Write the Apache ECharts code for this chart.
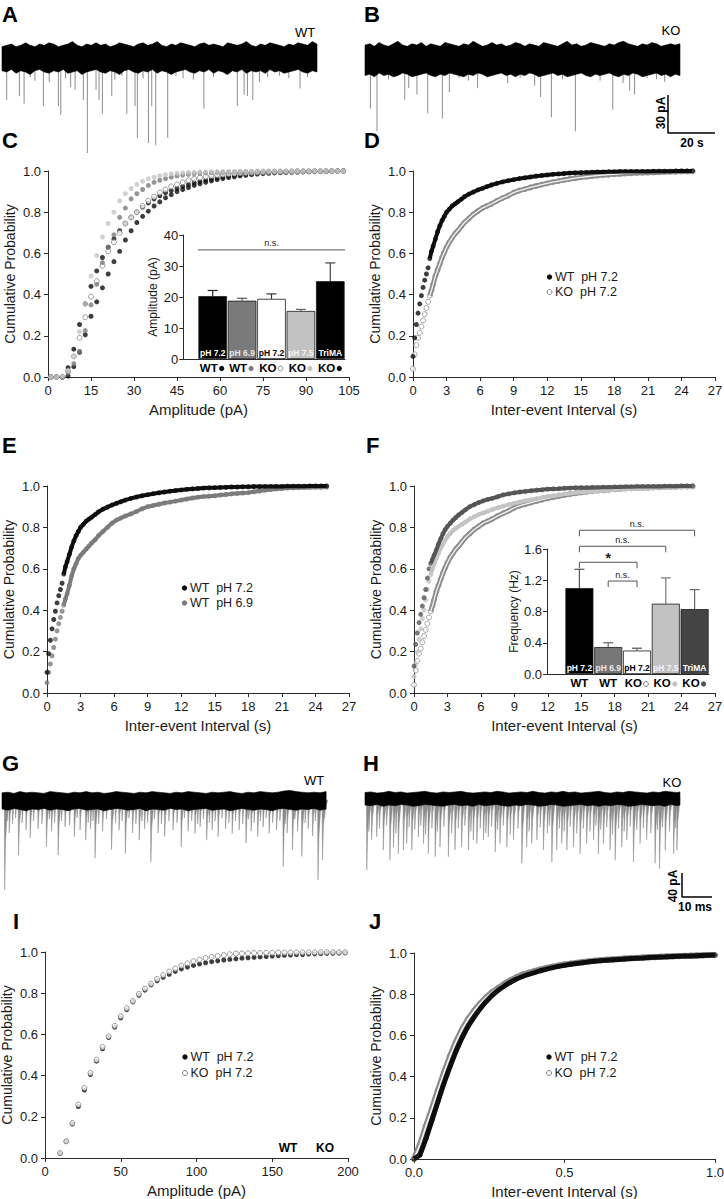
<!DOCTYPE html>
<html><head><meta charset="utf-8">
<script src="https://cdn.jsdelivr.net/npm/echarts/dist/echarts.min.js"></script>
<style>html,body{margin:0;padding:0;background:#fff}#c{width:724px;height:1199px}</style>
</head><body><div id="c"></div>
<script>
// ================= DATA =================
// Panels A/B: raw traces (time in s, current in pA relative to baseline)
const envAB = [0,2,4,6,8,10,12,14,16,18,20,22,24,26,28,30,32,34,36,38,40,42,44,46,48,50,52,54,56,58,60,62,64,66,68,70,72,74,76,78,80,82,84,86,88,90,92,94,96,98,100,102,104,106,108,110,112,114,116,118,120,122,124,126,128,130,132,134];
const traceAHi = [9,10,11,9,10,12,10,9,11,10,12,11,9,10,11,13,10,9,11,10,12,10,11,9,10,12,11,10,9,11,12,10,11,13,10,9,11,10,12,11,10,9,11,12,10,11,10,9,12,11,10,11,13,10,9,11,10,12,11,10,9,11,10,12,11,10,13,11];
const traceALo = [-10,-11,-9,-12,-10,-11,-13,-10,-9,-11,-12,-10,-11,-9,-12,-11,-10,-13,-11,-10,-9,-11,-12,-10,-11,-13,-10,-9,-11,-12,-10,-11,-9,-12,-10,-11,-13,-11,-10,-9,-11,-12,-10,-11,-9,-12,-10,-11,-13,-10,-11,-9,-12,-10,-11,-10,-12,-9,-11,-10,-12,-11,-10,-9,-11,-12,-10,-11];
const traceBHi = [11,12,10,13,11,10,12,14,11,10,12,11,13,10,12,11,10,13,12,11,10,12,11,14,12,10,11,13,11,12,10,11,13,12,10,12,11,10,13,12,11,10,12,14,11,12,10,11,13,12,11,10,12,11,13,14,12,11,10,12,11,13,12,10,11,12,11,12];
const traceBLo = [-13,-12,-14,-11,-13,-12,-14,-13,-11,-12,-14,-13,-12,-11,-13,-14,-12,-13,-11,-12,-13,-14,-12,-13,-11,-12,-14,-13,-12,-11,-13,-12,-14,-12,-13,-11,-12,-14,-13,-12,-11,-13,-12,-14,-13,-12,-11,-13,-14,-12,-13,-12,-11,-13,-14,-12,-13,-11,-12,-14,-13,-12,-11,-13,-12,-14,-12,-13];
const traceASpikes = [[2.0,33],[7.4,30],[9.4,36],[12,15],[14,18],[17.6,38],[20.1,19],[24.0,38],[25.0,45],[27,16],[29.2,23],[31.1,25],[34.6,33],[36.3,75],[40.0,25],[41.3,33],[42.7,44],[46.7,30],[48,17],[51,14],[53.1,44],[56.6,38],[57.6,63],[60,16],[62.3,67],[63.7,38],[65.4,69],[70.5,63],[74,14],[77,16],[81.4,17],[85.9,40],[90,15],[95,13],[100.1,38],[103.0,29],[104.4,30],[106.7,33],[109.5,19],[113,15],[118,14],[122,16],[126.8,24],[130,15]];
const traceBSpikes = [[2.3,39],[5.1,57],[10,16],[13,14],[16.9,32],[18.6,23],[22.1,28],[26.7,43],[32.9,47],[35.9,26],[40,15],[44,17],[47.9,23],[52,14],[60.7,19],[66,15],[72.2,21],[74.7,30],[79.3,46],[84,16],[89.5,57],[96,14],[100,17],[105.4,40],[109.8,19],[112.6,25],[114.7,28],[120,15],[124,16],[127.5,18]];
const scaleAB = {pA:30, s:20};

// Panels G/H: traces (time in ms, current in pA)
const envG = [0,2,4,6,8,10,12,14,16,18,20,22,24,26,28,30,32,34,36,38,40,42,44,46,48,50,52,54,56,58,60,62,64,66,68,70,72,74,76,78,80,82,84,86,88,90,92,94,96,98,100,102,104,106,108];
const traceGHi = [12,13,11,14,12,13,12,11,14,13,12,11,13,12,14,12,13,11,12,14,13,12,11,13,12,14,13,12,11,13,12,14,13,12,11,13,12,13,14,12,11,13,12,14,13,12,13,15,16,14,13,12,13,12,14];
const traceGLo = [-15,-17,-14,-16,-18,-15,-16,-14,-17,-15,-16,-18,-15,-14,-17,-16,-15,-18,-16,-14,-15,-17,-16,-14,-18,-15,-16,-17,-14,-16,-15,-18,-16,-15,-14,-17,-16,-15,-18,-16,-14,-16,-17,-15,-16,-18,-15,-14,-16,-17,-15,-16,-14,-17,-15];
const envH = [0,2,4,6,8,10,12,14,16,18,20,22,24,26,28,30,32,34,36,38,40,42,44,46,48,50,52,54,56,58,60,62,64,66,68,70,72,74,76,78,80,82,84,86,88,90,92,94,96,98,100,102,104,105];
const traceHHi = [10,11,9,10,12,10,11,9,10,11,12,10,9,11,10,11,12,10,9,10,11,10,12,11,9,10,11,10,12,10,9,11,10,12,10,11,9,10,11,12,10,9,11,10,12,11,10,9,11,10,12,11,10,11];
const traceHLo = [-11,-12,-10,-13,-11,-12,-10,-11,-13,-12,-10,-11,-12,-13,-11,-10,-12,-11,-13,-10,-12,-11,-10,-12,-13,-11,-12,-10,-11,-13,-12,-10,-11,-13,-12,-11,-10,-12,-11,-13,-11,-12,-10,-11,-13,-12,-10,-11,-12,-11,-13,-10,-12,-11];
const traceGSpikes = [[0.9,150],[1.7,35],[2.4,55],[3.5,40],[4.5,30],[5.5,92],[6.7,38],[8,50],[9.4,63],[10.5,35],[12,48],[13.3,40],[14.8,78],[15.8,32],[16.5,52],[17.5,38],[18.7,92],[19.8,35],[21,45],[22.5,42],[24.1,61],[25,30],[26,50],[27.9,67],[28.7,38],[29.5,48],[30.3,35],[31.0,97],[32.2,40],[33.5,52],[34.8,32],[36.5,83],[37.8,38],[39,50],[40,35],[41.1,89],[42.3,30],[43.5,55],[44.6,40],[45.7,67],[46.6,35],[47.5,48],[48.5,38],[49.6,103],[50.8,32],[52,55],[53.1,40],[54.2,61],[55.6,35],[57,50],[58.3,38],[59.7,78],[60.8,30],[62,52],[63.2,35],[64.3,56],[65.2,40],[66,45],[67.1,32],[68.2,67],[69.1,38],[70,50],[71,35],[72.0,61],[73.3,30],[74.5,48],[75.6,38],[76.7,56],[77.8,35],[79,50],[80.2,40],[81.3,72],[82.2,32],[83,52],[84,38],[85.2,61],[86.1,35],[87,45],[88,30],[89.0,56],[90.2,38],[91.5,50],[92.6,35],[93.7,111],[94.3,40],[95,55],[96.8,83],[97.6,32],[98.5,52],[99.9,94],[101,38],[102,48],[103.5,60],[104.4,35],[105.3,133],[106.8,100],[107.5,30]];
const traceHSpikes = [[0.6,119],[1.3,55],[2.2,69],[3.9,64],[4.8,50],[6.1,86],[7.2,45],[8.3,103],[9.5,81],[10.3,58],[11.1,92],[12.8,86],[13.9,75],[14.7,48],[15.6,86],[16.6,52],[17.8,64],[18.6,45],[19.5,75],[20.2,60],[21.1,92],[22.3,50],[23.4,97],[24.1,55],[25.0,81],[26.3,47],[27.8,97],[28.9,58],[30.0,86],[31.1,50],[32.2,81],[33.3,45],[34.5,86],[35.3,55],[36.1,69],[37.3,75],[38.4,50],[39.5,69],[40.3,58],[41.1,64],[42.2,47],[43.4,89],[44.2,52],[45.0,75],[46.1,45],[47.3,81],[48.4,60],[49.5,69],[51,50],[52.3,108],[53.9,81],[54.7,55],[55.6,75],[57.3,69],[58.4,48],[59.5,86],[60.8,58],[61.5,45],[62.3,106],[63.9,86],[64.8,50],[65.6,75],[66.4,55],[67.3,86],[68.4,47],[69.5,81],[70.6,58],[71.7,92],[72.8,50],[73.9,75],[75,55],[76.2,69],[77,45],[77.8,92],[78.6,52],[79.5,75],[80.6,48],[81.7,86],[82.5,60],[83.4,103],[84.5,50],[85.6,81],[86.4,55],[87.3,69],[88.4,47],[89.5,106],[90.6,52],[91.7,75],[92.8,50],[93.9,69],[95.3,58],[96.7,108],[97.5,52],[98.2,117],[99.2,48],[100.1,86],[101.5,55],[102.9,92],[103.4,50],[104.0,86]];
const scaleGH = {pA:40, ms:10};

// Panel C: amplitude cumulative distributions (bins in pA)
const ampBins = [1,3,5,7,9,11,13,15,17,19,21,23,25,27,29,31,33,35,37,39,41,43,45,47,49,51,53,55,57,59,61,63,65,67,69,71,73,75,77,79,81,83,85,87,89,91,93,95,97,99,101,103];
const cKOtri = [0,0,0,0.005,0.05,0.12,0.205,0.295,0.365,0.433,0.5,0.56,0.61,0.665,0.71,0.75,0.78,0.805,0.83,0.85,0.87,0.885,0.9,0.91,0.92,0.93,0.938,0.945,0.952,0.958,0.963,0.968,0.972,0.976,0.979,0.982,0.985,0.987,0.989,0.991,0.992,0.993,0.994,0.995,0.996,0.997,0.997,0.998,0.998,0.999,0.999,1];
const cWT72 = [0,0,0,0.045,0.135,0.255,0.355,0.44,0.515,0.58,0.63,0.67,0.71,0.745,0.775,0.8,0.825,0.845,0.865,0.88,0.895,0.905,0.915,0.925,0.935,0.943,0.95,0.956,0.962,0.967,0.972,0.976,0.979,0.982,0.985,0.987,0.989,0.991,0.992,0.993,0.994,0.995,0.996,0.996,0.997,0.997,0.998,0.998,0.999,0.999,1,1];
const cKO72 = [0,0,0,0.03,0.1,0.19,0.29,0.39,0.465,0.54,0.61,0.655,0.7,0.745,0.775,0.8,0.83,0.855,0.875,0.895,0.91,0.925,0.935,0.945,0.955,0.962,0.968,0.973,0.977,0.98,0.983,0.986,0.988,0.99,0.991,0.992,0.993,0.994,0.995,0.996,0.996,0.997,0.997,0.998,0.998,0.998,0.999,0.999,0.999,1,1,1];
const cWT69 = [0,0,0,0.02,0.065,0.125,0.225,0.35,0.45,0.555,0.63,0.69,0.775,0.82,0.865,0.89,0.91,0.93,0.945,0.955,0.963,0.97,0.976,0.98,0.984,0.987,0.989,0.991,0.992,0.993,0.994,0.995,0.996,0.996,0.997,0.997,0.998,0.998,0.998,0.999,0.999,0.999,0.999,1,1,1,1,1,1,1,1,1];
const cKO75 = [0,0,0.005,0.03,0.1,0.22,0.355,0.49,0.59,0.68,0.745,0.8,0.855,0.89,0.915,0.935,0.95,0.962,0.97,0.977,0.982,0.986,0.989,0.991,0.993,0.994,0.995,0.996,0.997,0.997,0.998,0.998,0.998,0.999,0.999,0.999,0.999,1,1,1,1,1,1,1,1,1,1,1,1,1,1,1];

// Insets: bar charts (mean, top of error bar)
const insetGroups = ['WT','WT','KO','KO','KO'];
const insetTags = ['pH 7.2','pH 6.9','pH 7.2','pH 7.5','TriMA'];
const ampMean = [20.3,18.8,19.4,15.5,25.1];
const ampErrTop = [22.1,19.6,21.0,16.0,31.0];
const ampSig = {x1:-0.5, x2:4.5, y:35.2, text:'n.s.'};
const freqMean = [1.10,0.345,0.30,0.90,0.83];
const freqErrTop = [1.34,0.40,0.33,1.23,1.08];
const brX1 = [0,0,0,1];
const brX2 = [4,3,2,2];
const brY = [1.84,1.635,1.43,1.19];
const brText = ['n.s.','n.s.','*','n.s.'];

// Panels D/E/F: inter-event interval cumulative distributions (s)
const ieiX = [0,0.15,0.3,0.45,0.6,0.75,0.9,1.05,1.2,1.35,1.5,1.65,1.8,2.0,2.2,2.4,2.6,2.8,3.0,3.25,3.5,3.75,4.0,4.3,4.6,5.0,5.4,5.8,6.2,6.6,7.0,7.5,8.0,8.5,9.0,9.5,10,10.5,11,11.5,12,12.5,13,13.5,14,14.5,15,15.5,16,16.5,17,17.5,18,18.5,19,19.5,20,20.5,21,21.5,22,22.5,23,23.5,24,24.5,25];
const iWT72 = [0.10,0.19,0.255,0.31,0.355,0.395,0.435,0.47,0.50,0.53,0.575,0.61,0.635,0.67,0.705,0.735,0.76,0.78,0.80,0.815,0.83,0.84,0.85,0.862,0.875,0.888,0.898,0.908,0.916,0.924,0.932,0.94,0.947,0.953,0.958,0.963,0.967,0.971,0.975,0.978,0.981,0.984,0.986,0.988,0.99,0.991,0.992,0.993,0.994,0.995,0.995,0.996,0.996,0.997,0.997,0.997,0.998,0.998,0.998,0.999,0.999,0.999,0.999,1,1,1,1];
const iKO72 = [0.04,0.11,0.155,0.19,0.215,0.245,0.275,0.305,0.335,0.365,0.395,0.42,0.45,0.49,0.52,0.55,0.58,0.605,0.63,0.655,0.675,0.695,0.71,0.73,0.75,0.77,0.79,0.805,0.82,0.83,0.84,0.855,0.868,0.88,0.895,0.905,0.912,0.92,0.927,0.934,0.94,0.946,0.951,0.956,0.961,0.965,0.969,0.972,0.975,0.978,0.98,0.982,0.984,0.986,0.988,0.989,0.99,0.991,0.992,0.993,0.994,0.995,0.996,0.996,0.997,0.997,0.998];
const iWT69 = [0.05,0.1,0.14,0.18,0.22,0.26,0.3,0.335,0.365,0.395,0.425,0.455,0.48,0.52,0.565,0.6,0.625,0.65,0.665,0.68,0.695,0.71,0.725,0.74,0.76,0.78,0.8,0.82,0.835,0.845,0.855,0.865,0.877,0.89,0.9,0.906,0.912,0.918,0.922,0.927,0.932,0.937,0.942,0.946,0.949,0.951,0.953,0.956,0.959,0.962,0.964,0.966,0.968,0.972,0.976,0.98,0.983,0.986,0.988,0.99,0.991,0.992,0.993,0.993,0.994,0.994,0.995];
const iKOtri = [0.13,0.235,0.29,0.34,0.38,0.42,0.46,0.5,0.555,0.6,0.625,0.645,0.665,0.69,0.72,0.745,0.77,0.79,0.805,0.82,0.835,0.848,0.86,0.872,0.885,0.9,0.91,0.92,0.928,0.935,0.94,0.948,0.957,0.962,0.967,0.971,0.974,0.977,0.98,0.982,0.985,0.986,0.987,0.989,0.99,0.991,0.992,0.992,0.993,0.993,0.994,0.994,0.995,0.995,0.996,0.996,0.997,0.997,0.998,0.998,0.998,0.999,0.999,0.999,1,1,1];
const iKO75 = [0.08,0.14,0.2,0.26,0.31,0.36,0.4,0.45,0.5,0.54,0.57,0.6,0.625,0.65,0.675,0.7,0.72,0.74,0.755,0.77,0.785,0.795,0.805,0.815,0.825,0.84,0.852,0.862,0.87,0.878,0.886,0.895,0.903,0.91,0.917,0.923,0.929,0.934,0.939,0.944,0.949,0.953,0.957,0.961,0.964,0.967,0.97,0.972,0.974,0.976,0.978,0.98,0.982,0.983,0.985,0.986,0.987,0.988,0.989,0.99,0.991,0.992,0.993,0.994,0.995,0.995,0.996];

// Panel I: amplitude (pA)
const iAmpX = [10,14,18,22,26,30,34,38,42,46,50,54,58,62,66,70,74,78,82,86,90,94,98,102,106,110,114,118,122,126,130,134,138,142,146,150,154,158,162,166,170,174,178,182,186,190,194,198];
const iAmpWT = [0.022,0.08,0.165,0.25,0.33,0.405,0.47,0.53,0.585,0.635,0.68,0.72,0.758,0.79,0.815,0.84,0.86,0.877,0.892,0.906,0.918,0.927,0.935,0.942,0.948,0.953,0.957,0.961,0.964,0.967,0.97,0.972,0.974,0.976,0.978,0.98,0.982,0.984,0.985,0.987,0.988,0.99,0.991,0.992,0.993,0.994,0.995,0.996];
const iAmpKO = [0.024,0.081,0.17,0.259,0.34,0.413,0.477,0.539,0.59,0.642,0.688,0.727,0.762,0.796,0.822,0.846,0.869,0.888,0.905,0.919,0.934,0.945,0.955,0.963,0.971,0.976,0.981,0.985,0.989,0.992,0.993,0.994,0.995,0.995,0.996,0.996,0.997,0.997,0.997,0.998,0.998,0.998,0.998,0.999,0.999,0.999,0.999,0.999];

// Panel J: inter-event interval (s)
const jX = [0,0.02,0.04,0.06,0.08,0.1,0.12,0.14,0.16,0.18,0.2,0.22,0.24,0.26,0.28,0.3,0.32,0.34,0.36,0.38,0.4,0.42,0.44,0.46,0.48,0.5,0.52,0.54,0.56,0.58,0.6,0.62,0.64,0.66,0.68,0.7,0.72,0.74,0.76,0.78,0.8,0.82,0.84,0.86,0.88,0.9,0.92,0.94,0.96,0.98,1.0];
const jWT = [0,0.02,0.1,0.19,0.28,0.37,0.45,0.525,0.59,0.645,0.69,0.73,0.765,0.795,0.82,0.84,0.858,0.874,0.886,0.896,0.905,0.914,0.922,0.929,0.935,0.94,0.945,0.949,0.953,0.957,0.96,0.963,0.965,0.967,0.969,0.971,0.973,0.975,0.976,0.978,0.979,0.98,0.982,0.983,0.984,0.985,0.986,0.987,0.988,0.989,0.99];
const jKO = [0,0.07,0.16,0.245,0.335,0.42,0.5,0.57,0.63,0.68,0.72,0.755,0.785,0.81,0.83,0.85,0.867,0.882,0.895,0.904,0.912,0.92,0.927,0.933,0.939,0.944,0.948,0.952,0.956,0.959,0.962,0.965,0.967,0.969,0.971,0.973,0.975,0.976,0.978,0.979,0.98,0.982,0.983,0.984,0.985,0.986,0.987,0.988,0.989,0.99,0.99];

// ================= STYLE =================
const FF = '"Liberation Sans", Arial, Helvetica, sans-serif';
const AXC = '#2b2b2b';
const BLACK = '#0d0d0d', DGREY = '#7b7b7b', LGREY = '#c4c4c4', OPEN = '#808080', TRI = '#555555';

const chart = echarts.init(document.getElementById('c'), null, {renderer:'svg', width:724, height:1199});

const gridDefs = [
  {left:2, top:32.7, width:315, height:126.7},    //0 A
  {left:365, top:33.7, width:350, height:126.7},  //1 B
  {left:48, top:171, width:301, height:206},      //2 C
  {left:183.3, top:235, width:161.7, height:124}, //3 C inset
  {left:413, top:171, width:302, height:206},     //4 D
  {left:47, top:486, width:302, height:207},      //5 E
  {left:414, top:486, width:301, height:207},     //6 F
  {left:547, top:549, width:162, height:125},     //7 F inset
  {left:2, top:788, width:325, height:108},       //8 G
  {left:365, top:786.5, width:350, height:114},   //9 H
  {left:45, top:952, width:303, height:206},      //10 I
  {left:414, top:953, width:301, height:206}      //11 J
];
const grid = gridDefs.map(g => Object.assign({containLabel:false, outerBoundsMode:'none'}, g));

const axLine = {show:true, onZero:false, lineStyle:{color:AXC, width:1}};
const axTick = {show:true, length:4, inside:false, lineStyle:{color:AXC, width:1}};
const fix1 = v => v.toFixed(1);

function hiddenAxis(g, min, max) { return {gridIndex:g, type:'value', min, max, show:false}; }
function cdfX(g, max, interval, name, fmt) {
  return {gridIndex:g, type:'value', min:0, max, interval, name, nameLocation:'middle', nameGap:25,
    nameTextStyle:{fontFamily:FF, fontSize:15, color:'#1a1a1a'},
    axisLine:axLine, axisTick:axTick, splitLine:{show:false},
    axisLabel:{fontFamily:FF, fontSize:13, color:'#1a1a1a', margin:7, formatter:fmt}};
}
function cdfY(g) {
  return {gridIndex:g, type:'value', min:0, max:1, interval:0.2, name:'Cumulative Probability', nameLocation:'middle', nameGap:31,
    nameTextStyle:{fontFamily:FF, fontSize:14, color:'#1a1a1a'},
    axisLine:axLine, axisTick:axTick, splitLine:{show:false},
    axisLabel:{fontFamily:FF, fontSize:13, color:'#1a1a1a', margin:7, formatter:fix1}};
}
function insetX(g, min, max) {
  return {gridIndex:g, type:'value', min, max, axisLine:axLine, axisTick:{show:false}, axisLabel:{show:false}, splitLine:{show:false}};
}
function insetY(g, max, interval, name, fmt) {
  return {gridIndex:g, type:'value', min:0, max, interval, name, nameLocation:'middle', nameGap:24,
    nameTextStyle:{fontFamily:FF, fontSize:12, color:'#1a1a1a'},
    axisLine:axLine, axisTick:axTick, splitLine:{show:false},
    axisLabel:{fontFamily:FF, fontSize:13, color:'#1a1a1a', margin:5, formatter:fmt}};
}

const xAxis = [
  hiddenAxis(0, 0, 134), hiddenAxis(1, 0, 148.9),
  cdfX(2, 105, 15, 'Amplitude (pA)'),
  insetX(3, -1, 4.5),
  cdfX(4, 27, 3, 'Inter-event Interval (s)'),
  cdfX(5, 27, 3, 'Inter-event Interval (s)'),
  cdfX(6, 27, 3, 'Inter-event Interval (s)'),
  insetX(7, -1.125, 4.5),
  hiddenAxis(8, 0, 108.3), hiddenAxis(9, 0, 116.7),
  cdfX(10, 200, 50, 'Amplitude (pA)'),
  cdfX(11, 1, 0.5, 'Inter-event Interval (s)', fix1)
];
const yAxis = [
  hiddenAxis(0, -80, 20), hiddenAxis(1, -80, 20),
  cdfY(2),
  insetY(3, 40, 10, 'Amplitude (pA)'),
  cdfY(4), cdfY(5), cdfY(6),
  insetY(7, 1.6, 0.4, 'Frequency (Hz)', fix1),
  hiddenAxis(8, -160, 20), hiddenAxis(9, -170, 20),
  cdfY(10), cdfY(11)
];

const series = [];
const base = g => ({xAxisIndex:g, yAxisIndex:g, animation:false, silent:true, clip:false});

// ---- traces
function bandSeries(g, ts, hi, lo) {
  return Object.assign(base(g), {type:'custom', data:[[0,0]], renderItem:(p, api) => {
    const pts = [];
    ts.forEach((t,i) => pts.push(api.coord([t, hi[i]])));
    for (let i = ts.length - 1; i >= 0; i--) pts.push(api.coord([ts[i], lo[i]]));
    return {type:'polygon', shape:{points:pts}, style:{fill:'#000', stroke:'#000', lineWidth:0.6}};
  }});
}
function spikeSeries(g, spikes, color) {
  return Object.assign(base(g), {type:'custom', data:spikes, renderItem:(p, api) => {
    const a = api.coord([api.value(0), 0]);
    const b = api.coord([api.value(0), -api.value(1)]);
    return {type:'line', shape:{x1:a[0], y1:a[1], x2:b[0], y2:b[1]}, style:{stroke:color, lineWidth:1}};
  }});
}
// fast events: quick rise, slower return (pixel widths are drawing style)
function eventSeries(g, spikes, color) {
  return Object.assign(base(g), {type:'custom', data:spikes, renderItem:(p, api) => {
    const a = api.coord([api.value(0), 0]);
    const b = api.coord([api.value(0), -api.value(1)]);
    const h = b[1] - a[1];
    return {type:'polygon', shape:{points:[[a[0] - 0.4, a[1]], [b[0], b[1]], [b[0] + 0.9, a[1] + h * 0.45], [a[0] + 3.2, a[1]]]},
      style:{fill:color, stroke:color, lineWidth:0.5}};
  }});
}
function scaleBar(g, x0, y0, dx, dy) {
  return Object.assign(base(g), {type:'line', data:[[x0, y0], [x0, y0 - dy], [x0 + dx, y0 - dy]],
    showSymbol:false, lineStyle:{color:'#000', width:1.5}});
}
series.push(spikeSeries(0, traceASpikes, '#8c8c8c'), bandSeries(0, envAB, traceAHi, traceALo));
series.push(spikeSeries(1, traceBSpikes, '#8c8c8c'), bandSeries(1, envAB, traceBHi, traceBLo));
series.push(scaleBar(1, 128.9, -28.4, scaleAB.s, scaleAB.pA));
series.push(eventSeries(8, traceGSpikes, '#8a8a8a'), bandSeries(8, envG, traceGHi, traceGLo));
series.push(eventSeries(9, traceHSpikes, '#8a8a8a'), bandSeries(9, envH, traceHHi, traceHLo));
series.push(scaleBar(9, 105.7, -124.2, scaleGH.ms, scaleGH.pA));

// ---- cumulative distributions
function cdf(g, xs, ys, kind, color, size, tailFrom, lineW, innerW) {
  const pts = xs.map((x,i) => [x, ys[i]]);
  const out = [];
  if (tailFrom != null) {
    const tail = pts.slice(tailFrom);
    out.push(Object.assign(base(g), {type:'line', data:tail, showSymbol:false, lineStyle:{color, width:lineW}}));
    if (kind === 'open') {
      out.push(Object.assign(base(g), {type:'line', data:tail, showSymbol:false, lineStyle:{color:'#f4f4f4', width:innerW}}));
    }
  }
  if (kind === 'filled') {
    out.push(Object.assign(base(g), {type:'scatter', data:pts, symbol:'circle', symbolSize:size, itemStyle:{color}}));
  } else {
    out.push(Object.assign(base(g), {type:'scatter', data:pts, symbol:'circle', symbolSize:size, itemStyle:{color:'#fff', borderColor:color, borderWidth:1}}));
  }
  return out;
}
// C
series.push(...cdf(2, ampBins, cKOtri, 'filled', BLACK, 5));
series.push(...cdf(2, ampBins, cWT72, 'filled', BLACK, 5));
series.push(...cdf(2, ampBins, cKO72, 'open', OPEN, 5));
series.push(...cdf(2, ampBins, cWT69, 'filled', DGREY, 5));
series.push(...cdf(2, ampBins, cKO75, 'filled', LGREY, 5));
// D
series.push(...cdf(4, ieiX, iKO72, 'open', '#8c8c8c', 5, 10, 5, 1.3));
series.push(...cdf(4, ieiX, iWT72, 'filled', BLACK, 5, 10, 4));
// E
series.push(...cdf(5, ieiX, iWT69, 'filled', DGREY, 5, 10, 4));
series.push(...cdf(5, ieiX, iWT72, 'filled', BLACK, 5, 10, 4));
// F
series.push(...cdf(6, ieiX, iKO72, 'open', '#8c8c8c', 5, 10, 5, 1.3));
series.push(...cdf(6, ieiX, iKO75, 'filled', LGREY, 5, 10, 4));
series.push(...cdf(6, ieiX, iKOtri, 'filled', TRI, 5, 10, 4));
// I
series.push(...cdf(10, iAmpX, iAmpWT, 'filled', BLACK, 5));
series.push(...cdf(10, iAmpX, iAmpKO, 'open', OPEN, 5));
// J (KO underneath, WT on top)
series.push(...cdf(11, jX, jKO, 'open', '#8a8a8a', 5.5, 0, 6, 1.6));
series.push(...cdf(11, jX, jWT, 'filled', BLACK, 5, 0, 5));

// ---- inset bar charts
function insetBars(g, means, fills, tagColors, width) {
  return Object.assign(base(g), {type:'bar', barWidth:width,
    data: means.map((v,i) => ({value:[i, v], itemStyle:{color:fills[i], borderColor:'#1a1a1a', borderWidth:0.8},
      label:{color:tagColors[i]}})),
    label:{show:true, position:'insideBottom', distance:1.5, fontFamily:FF, fontSize:8.5, fontWeight:'bold',
      formatter:p => insetTags[p.dataIndex]}});
}
function errBars(g, means, tops, colors) {
  return Object.assign(base(g), {type:'custom', data: means.map((m,i) => [i, tops[i], m]), renderItem:(p, api) => {
    const a = api.coord([api.value(0), api.value(2)]);
    const b = api.coord([api.value(0), api.value(1)]);
    const c = colors[p.dataIndex];
    return {type:'group', children:[
      {type:'line', shape:{x1:a[0], y1:a[1], x2:b[0], y2:b[1]}, style:{stroke:c, lineWidth:1.2}},
      {type:'line', shape:{x1:b[0]-5, y1:b[1], x2:b[0]+5, y2:b[1]}, style:{stroke:c, lineWidth:1.2}}
    ]};
  }});
}
function groupLabels(g, marks, dy) {
  return Object.assign(base(g), {type:'custom', data: insetGroups.map((s,i) => [i, 0]), renderItem:(p, api) => {
    const i = p.dataIndex;
    const pt = api.coord([api.value(0), 0]);
    const y = pt[1] + dy;
    const m = marks[i];
    const kids = [];
    if (m) {
      kids.push({type:'text', x:pt[0] + 5, y, style:{text:insetGroups[i], fill:'#000', font:'bold 11.5px ' + FF,
        align:'right', verticalAlign:'middle', textAlign:'right', textVerticalAlign:'middle'}});
      if (m === 'open') kids.push({type:'circle', shape:{cx:pt[0] + 9, cy:y + 1, r:2.4}, style:{fill:'#fff', stroke:OPEN, lineWidth:1}});
      else kids.push({type:'circle', shape:{cx:pt[0] + 9, cy:y + 1, r:2.6}, style:{fill:m}});
    } else {
      kids.push({type:'text', x:pt[0], y, style:{text:insetGroups[i], fill:'#000', font:'bold 11.5px ' + FF,
        align:'center', verticalAlign:'middle', textAlign:'center', textVerticalAlign:'middle'}});
    }
    return {type:'group', children:kids};
  }});
}
function brackets(g, x1s, x2s, ys, texts, leg) {
  return Object.assign(base(g), {type:'custom', data: x1s.map((x,i) => [x, x2s[i], ys[i]]), renderItem:(p, api) => {
    const i = p.dataIndex;
    const a = api.coord([api.value(0), api.value(2)]);
    const b = api.coord([api.value(1), api.value(2)]);
    const star = texts[i] === '*';
    return {type:'group', children:[
      {type:'polyline', shape:{points:[[a[0], a[1] + leg], [a[0], a[1]], [b[0], b[1]], [b[0], b[1] + leg]]},
        style:{stroke:'#555', lineWidth:1, fill:'none'}},
      {type:'text', x:(a[0] + b[0]) / 2, y: star ? a[1] + 3 : a[1] - 2, style:{text:texts[i], fill:'#222',
        font: star ? 'bold 14px ' + FF : '9px ' + FF, align:'center', verticalAlign:'bottom', textAlign:'center', textVerticalAlign:'bottom'}}
    ]};
  }});
}
// C inset
series.push(insetBars(3, ampMean, ['#000', '#7a7a7a', '#fff', '#c2c2c2', '#000'], ['#fff', '#e6e6e6', '#000', '#f2f2f2', '#fff'], 28.6));
series.push(errBars(3, ampMean, ampErrTop, ['#222', '#555', '#333', '#666', '#444']));
series.push(brackets(3, [ampSig.x1], [ampSig.x2], [ampSig.y], [ampSig.text], 0));
series.push(groupLabels(3, [BLACK, DGREY, 'open', LGREY, BLACK], 8.5));
// F inset
series.push(insetBars(7, freqMean, ['#000', '#777', '#fff', '#c2c2c2', '#444'], ['#fff', '#e6e6e6', '#000', '#f2f2f2', '#fff'], 28));
series.push(errBars(7, freqMean, freqErrTop, ['#555', '#666', '#555', '#777', '#666']));
series.push(brackets(7, brX1, brX2, brY, brText, 6));
series.push(groupLabels(7, [null, null, 'open', LGREY, TRI], 9));

// ================= TEXT / ANNOTATIONS =================
const graphic = [];
function txt(s, x, y, font, opt) {
  opt = opt || {};
  graphic.push({type:'text', x, y, rotation: opt.rot || 0, silent:true, style:{text:s, font, fill: opt.fill || '#000',
    align: opt.align || 'center', verticalAlign:'middle', textAlign: opt.align || 'center', textVerticalAlign:'middle'}});
}
const LETTER = 'bold 22px ' + FF;
[['A',2,14],['B',364,14],['C',2,140],['D',364,140],['E',2,445.5],['F',366,445.5],['G',2,763],['H',363,763],['I',13,921],['J',369,921]]
  .forEach(([s,x,y]) => txt(s, x, y, LETTER, {align:'left'}));
txt('WT', 305, 32, '13px ' + FF);
txt('KO', 671, 30.5, '13px ' + FF);
txt('WT', 314, 780, '13px ' + FF);
txt('KO', 672, 782, '13px ' + FF);
txt('30 pA', 661, 113, 'bold 12px ' + FF, {rot: Math.PI / 2});
txt('20 s', 692, 142.5, 'bold 12px ' + FF);
txt('40 pA', 672.5, 886, 'bold 12px ' + FF, {rot: Math.PI / 2});
txt('10 ms', 695, 907, 'bold 12px ' + FF);
txt('WT', 288, 1148, 'bold 12px ' + FF);
txt('KO', 325, 1148, 'bold 12px ' + FF);
function legendItem(cx, cy, kind, color, label) {
  if (kind === 'open') graphic.push({type:'circle', silent:true, shape:{cx, cy, r:2.5}, style:{fill:'#fff', stroke:color, lineWidth:1}});
  else graphic.push({type:'circle', silent:true, shape:{cx, cy, r:2.7}, style:{fill:color}});
  txt(label, cx + 5.5, cy, '12.5px ' + FF, {align:'left', fill:'#1a1a1a'});
}
legendItem(549.5, 277, 'filled', BLACK, 'WT  pH 7.2');
legendItem(549.5, 292, 'open', OPEN, 'KO  pH 7.2');
legendItem(184.5, 588, 'filled', BLACK, 'WT  pH 7.2');
legendItem(184.5, 603, 'filled', DGREY, 'WT  pH 6.9');
legendItem(185, 1057, 'filled', BLACK, 'WT  pH 7.2');
legendItem(185, 1073, 'open', OPEN, 'KO  pH 7.2');
legendItem(549, 1057, 'filled', BLACK, 'WT  pH 7.2');
legendItem(549, 1073, 'open', OPEN, 'KO  pH 7.2');

chart.setOption({
  animation:false,
  backgroundColor:'#fff',
  textStyle:{fontFamily:FF},
  grid, xAxis, yAxis, series, graphic
});
</script>
</body></html>
